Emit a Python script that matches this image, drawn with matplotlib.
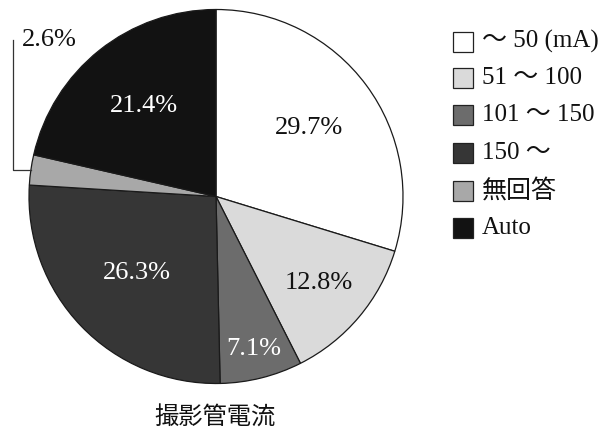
import numpy as np
import matplotlib
matplotlib.use("Agg")
import matplotlib.pyplot as plt
from matplotlib.patches import Rectangle

categories = ["〜 50 (mA)", "51 〜 100", "101 〜 150", "150 〜", "無回答", "Auto"]
values = [29.7, 12.8, 7.1, 26.3, 2.6, 21.4]
pct_labels = ["29.7%", "12.8%", "7.1%", "26.3%", "2.6%", "21.4%"]
title = "撮影管電流"

colors = ["#ffffff", "#dadada", "#6c6c6c", "#363636", "#a8a8a8", "#121212"]
label_colors = ["#111111", "#111111", "#ffffff", "#ffffff", "#111111", "#ffffff"]
label_r = [0.62, 0.72, 0.84, 0.59, None, 0.62]

FAM = ["Liberation Serif", "Noto Sans CJK JP", "DejaVu Serif"]

fig = plt.figure(figsize=(6.04, 4.37), dpi=100)
W, H = 604, 437
cx, cy, R = 216, 196.5, 187
ax = fig.add_axes([(cx - R) / W, (H - cy - R) / H, 2 * R / W, 2 * R / H])

wedges, _ = ax.pie(values, colors=colors, startangle=90, counterclock=False,
                   radius=1.0, wedgeprops=dict(edgecolor="#1a1a1a", linewidth=0.9))
ax.set_xlim(-1, 1)
ax.set_ylim(-1, 1)
ax.set_aspect("equal")
ax.axis("off")
for w in wedges:
    w.set_clip_on(False)

total = sum(values)
cum = 0.0
mids = []
for v in values:
    a0 = 90 - 360 * cum / total
    a1 = 90 - 360 * (cum + v) / total
    mids.append(np.deg2rad((a0 + a1) / 2))
    cum += v

for i, (lab, r) in enumerate(zip(pct_labels, label_r)):
    if r is None:
        continue
    ax.text(r * np.cos(mids[i]), r * np.sin(mids[i]), lab, ha="center", va="center",
            fontsize=19, color=label_colors[i], family=FAM)

# leader for small slice
i = 4
ex, ey = np.cos(mids[i]), np.sin(mids[i])
lx = (13 - cx) / R
ty = (cy - 40) / R
ax.plot([ex, lx, lx], [ey, ey, ty], color="#333333", lw=0.9, clip_on=False)
ax.text((22 - cx) / R, (cy - 40) / R, pct_labels[i], ha="left", va="center",
        fontsize=19, color="#111111", family=FAM, clip_on=False)

# legend
rows_y = [41.5, 78, 115, 153, 191, 228]
for lab, col, y in zip(categories, colors, rows_y):
    fig.patches.append(Rectangle((453 / W, (H - y - 10) / H), 20 / W, 20 / H,
                                 transform=fig.transFigure, facecolor=col,
                                 edgecolor="#222222", linewidth=0.9))
    fig.text(482 / W, (H - y) / H, lab, ha="left", va="center", fontsize=18,
             color="#111111", family=FAM)

fig.text(215 / W, (H - 418) / H, title, ha="center", va="center", fontsize=17.5,
         color="#111111", family=["Noto Sans CJK JP", "DejaVu Sans"])

fig.savefig("out.png", dpi=100)
